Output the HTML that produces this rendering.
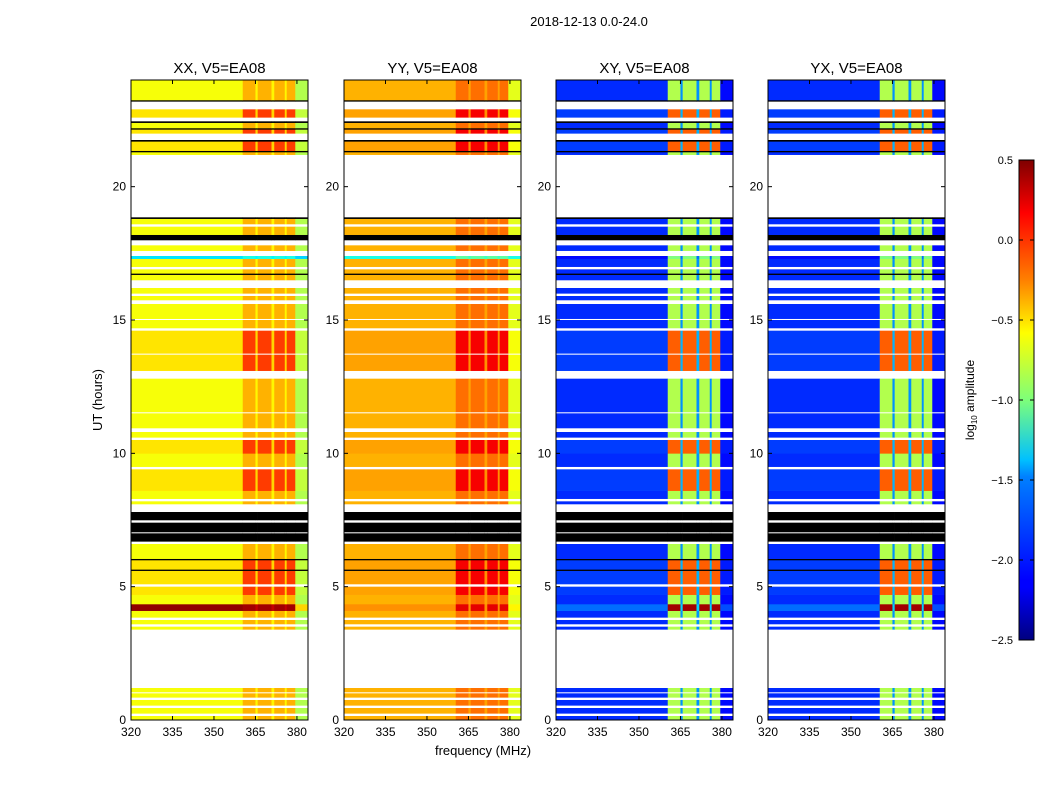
<!DOCTYPE html>
<html><head><meta charset="utf-8">
<style>
body{margin:0;background:#fff;font-family:"Liberation Sans","DejaVu Sans",sans-serif;}
svg{display:block}
</style></head>
<body>
<svg id="fig" width="1050" height="800" viewBox="0 0 1050 800">
<text x="589" y="26" font-size="13" text-anchor="middle">2018-12-13 0.0-24.0</text>
<text x="483" y="755" font-size="13" text-anchor="middle">frequency (MHz)</text>
<text x="102" y="400" font-size="13" text-anchor="middle" transform="rotate(-90 102 400)">UT (hours)</text>
<defs>
<linearGradient id="jet" x1="0" y1="1" x2="0" y2="0">
<stop offset="0" stop-color="#00007f"/><stop offset="0.11" stop-color="#0000ff"/><stop offset="0.125" stop-color="#0000ff"/>
<stop offset="0.34" stop-color="#0080ff"/><stop offset="0.375" stop-color="#00c0ff"/><stop offset="0.5" stop-color="#7dff7a"/>
<stop offset="0.64" stop-color="#ffff00"/><stop offset="0.75" stop-color="#ff8000"/><stop offset="0.89" stop-color="#ff0000"/><stop offset="1" stop-color="#7f0000"/>
</linearGradient>
</defs>
<g id="panels"></g>
<g id="cbar"></g>
</svg>
<script>
const panelNames = ["XX, V5=EA08","YY, V5=EA08","XY, V5=EA08","YX, V5=EA08"];
const panelLeft = [131,344,556,768];
const xTicks = [320,335,350,365,380];
const yTicks = [0,5,10,15,20];
const cbTicks = [0.5,0.0,-0.5,-1.0,-1.5,-2.0,-2.5];
// frequency column edges (MHz) and column type: b=background, s=band, g=gap, t=tail
const freqEdges = [320,360.4,365.0,365.8,370.8,371.8,375.6,376.3,379.4,384];
const freqType = ["b","s","g","s","g","s","g","s","t"];
// time rows [startHour, endHour, kind]
const timeRows = [
[0,0.15,"q"],[0.15,0.25,"w"],[0.25,0.45,"q"],[0.45,0.55,"w"],[0.55,0.75,"q"],[0.75,0.85,"w"],[0.85,1.0,"q"],[1.0,1.05,"w"],[1.05,1.2,"q"],
[1.2,3.4,"w"],[3.4,3.5,"q"],[3.5,3.6,"w"],[3.6,3.75,"q"],[3.75,3.85,"w"],[3.85,4.1,"q"],[4.1,4.35,"h"],[4.35,4.7,"q"],[4.7,5.0,"a"],[5.0,5.1,"w"],
[5.1,5.6,"a"],[5.6,5.65,"k"],[5.65,6.0,"a"],[6.0,6.05,"k"],[6.05,6.6,"q"],[6.6,6.7,"w"],[6.7,7.0,"k"],[7.0,7.05,"w"],[7.05,7.4,"k"],[7.4,7.5,"w"],
[7.5,7.8,"k"],[7.8,8.1,"w"],[8.1,8.2,"q"],[8.2,8.3,"w"],[8.3,8.6,"q"],[8.6,9.4,"a"],[9.4,9.5,"w"],[9.5,10.0,"q"],[10.0,10.5,"a"],[10.5,10.6,"w"],
[10.6,10.8,"q"],[10.8,10.95,"w"],[10.95,11.5,"q"],[11.5,11.55,"w"],[11.55,12.8,"q"],[12.8,13.1,"w"],[13.1,13.7,"a"],[13.7,13.75,"w"],[13.75,14.6,"a"],
[14.6,14.7,"w"],[14.7,15.0,"q"],[15.0,15.05,"w"],[15.05,15.6,"q"],[15.6,15.75,"w"],[15.75,15.9,"q"],[15.9,16.0,"w"],[16.0,16.2,"q"],[16.2,16.5,"w"],
[16.5,16.7,"q"],[16.7,16.75,"k"],[16.75,16.9,"q"],[16.9,17.0,"w"],[17.0,17.3,"q"],[17.3,17.4,"c"],[17.4,17.6,"w"],[17.6,17.8,"q"],[17.8,18.0,"w"],
[18.0,18.2,"k"],[18.2,18.5,"q"],[18.5,18.6,"w"],[18.6,18.8,"q"],[18.8,18.85,"k"],[18.85,19.0,"w"],[19.0,21.2,"w"],[21.2,21.3,"q"],[21.3,21.35,"k"],
[21.35,21.7,"a"],[21.7,21.75,"k"],[21.75,22.0,"w"],[22.0,22.15,"a"],[22.15,22.2,"k"],[22.2,22.4,"q"],[22.4,22.45,"k"],[22.45,22.6,"w"],[22.6,22.9,"a"],
[22.9,23.2,"w"],[23.2,23.25,"k"],[23.25,24,"q"]];
// log10 amplitude per panel: [background, band, gap, tail] for kinds q, a, h, c
const xxQuiet=[-0.65,-0.4,-0.6,-0.85], xxActive=[-0.55,-0.05,-0.5,-0.8], xxHot=[0.45,0.4,0.3,-0.5], xxCyan=[-1.45,-1.3,-1.4,-1.5];
const yyQuiet=[-0.4,-0.2,-0.35,-0.7], yyActive=[-0.35,0.15,-0.3,-0.65], yyHot=[-0.3,0.2,-0.3,-0.6], yyCyan=[-1.3,-1.1,-1.2,-1.3];
const xyQuiet=[-2.0,-0.85,-1.7,-2.1], xyActive=[-1.95,-0.15,-1.6,-2.05], xyHot=[-1.8,0.4,-1.5,-1.9], xyCyan=[-2.1,-1.0,-1.8,-2.1];
const yxQuiet=[-2.0,-0.85,-1.7,-2.1], yxActive=[-1.95,-0.15,-1.6,-2.05], yxHot=[-1.8,0.4,-1.5,-1.9], yxCyan=[-2.1,-1.0,-1.8,-2.1];
const panelVals=[{q:xxQuiet,a:xxActive,h:xxHot,c:xxCyan},{q:yyQuiet,a:yyActive,h:yyHot,c:yyCyan},{q:xyQuiet,a:xyActive,h:xyHot,c:xyCyan},{q:yxQuiet,a:yxActive,h:yxHot,c:yxCyan}];

const NS="http://www.w3.org/2000/svg";
const W=177, TOP=80, BOT=720, VMIN=-2.5, VMAX=0.5;
const yScale=h=>BOT-(h/24)*(BOT-TOP);
const xScale=(f,l)=>l+(f-320)/64*W;
function jet(v){let t=(v-VMIN)/(VMAX-VMIN);t=Math.max(0,Math.min(1,t));
 const c=x=>Math.round(255*Math.max(0,Math.min(1,1.5-Math.abs(4*t-x))));
 return `rgb(${c(3)},${c(2)},${c(1)})`;}
function el(tag,attrs,parent){const e=document.createElementNS(NS,tag);for(const k in attrs)e.setAttribute(k,attrs[k]);parent.appendChild(e);return e;}
const typeIdx={b:0,s:1,g:2,t:3};
const root=document.getElementById("panels");
panelNames.forEach((name,p)=>{
 const L=panelLeft[p];
 const g=el("g",{},root);
 
 
 timeRows.forEach(r=>{
  const y1=yScale(r[1]), y0=yScale(r[0]);
  if(r[2]==="w") return;
  freqType.forEach((ft,i)=>{
   const x0=xScale(freqEdges[i],L), x1=xScale(freqEdges[i+1],L);
   const fill = r[2]==="k" ? "#000" : jet(panelVals[p][r[2]][typeIdx[ft]]);
   const c=el("rect",{x:x0.toFixed(2),y:y1.toFixed(2),width:(x1-x0+0.3).toFixed(2),height:(y0-y1+0.3).toFixed(2),fill:fill},g);
   
   
  });
 });
 const fr=el("rect",{x:L,y:TOP,width:W,height:BOT-TOP,fill:"none",stroke:"#000","stroke-width":1},g);
 
 
 const t=el("text",{x:L+W/2,y:73,"font-size":15,"text-anchor":"middle"},g);t.textContent=name;
 
 
 xTicks.forEach(f=>{const x=xScale(f,L);
  el("line",{x1:x,x2:x,y1:BOT,y2:BOT-4,stroke:"#000"},g);el("line",{x1:x,x2:x,y1:TOP,y2:TOP+4,stroke:"#000"},g);
  const tx=el("text",{x:x,y:BOT+16,"font-size":12,"text-anchor":"middle"},g);tx.textContent=f;
  
  });
 yTicks.forEach(h=>{const y=yScale(h);
  el("line",{x1:L,x2:L+4,y1:y,y2:y,stroke:"#000"},g);el("line",{x1:L+W,x2:L+W-4,y1:y,y2:y,stroke:"#000"},g);
  const ty=el("text",{x:L-5,y:y+4,"font-size":12,"text-anchor":"end"},g);ty.textContent=h;
  
  });
});
// colorbar
const cb=document.getElementById("cbar");
const cbTop=160, cbBot=640, cbX=1019, cbW=15;
const cr=el("rect",{x:cbX,y:cbTop,width:cbW,height:cbBot-cbTop,fill:"url(#jet)",stroke:"#000"},cb);


cbTicks.forEach(v=>{const y=cbBot-(v-VMIN)/(VMAX-VMIN)*(cbBot-cbTop);
 el("line",{x1:cbX,x2:cbX+4,y1:y,y2:y,stroke:"#000"},cb);
 el("line",{x1:cbX+cbW-4,x2:cbX+cbW,y1:y,y2:y,stroke:"#000"},cb);
 const t=el("text",{x:1013,y:y+4,"font-size":11,"text-anchor":"end"},cb);t.textContent=(v<0?"\u2212":"")+Math.abs(v).toFixed(1);
 
 });
const lab=el("text",{x:974,y:400,"font-size":12,"text-anchor":"middle",transform:"rotate(-90 974 400)"},cb);
lab.innerHTML='log<tspan font-size="8" dy="3">10</tspan><tspan dy="-3"> amplitude</tspan>';


</script>
</body></html>
